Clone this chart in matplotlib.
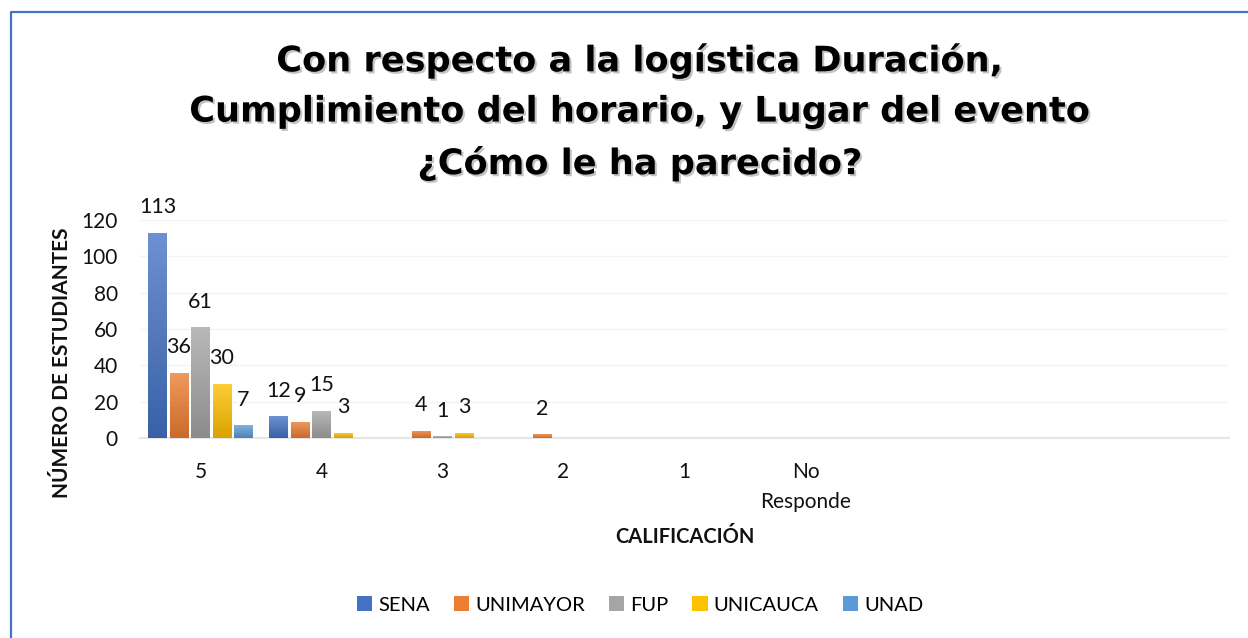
import matplotlib
matplotlib.use('Agg')
import matplotlib.pyplot as plt
import matplotlib.patheffects as pe
from matplotlib.lines import Line2D
from matplotlib.patches import Patch
import numpy as np

# data
categories = ["5", "4", "3", "2", "1", "No\nResponde", "", "", ""]
series = ["SENA", "UNIMAYOR", "FUP", "UNICAUCA", "UNAD"]
sena = [113, 12, 0, 0, 0, 0, 0, 0, 0]
unimayor = [36, 9, 4, 2, 0, 0, 0, 0, 0]
fup = [61, 15, 1, 0, 0, 0, 0, 0, 0]
unicauca = [30, 3, 3, 0, 0, 0, 0, 0, 0]
unad = [7, 0, 0, 0, 0, 0, 0, 0, 0]
yticks = [0, 20, 40, 60, 80, 100, 120]

colors = ["#4472C4", "#ED7D31", "#A5A5A5", "#FFC000", "#5B9BD5"]

plt.rcParams['font.family'] = ['Lato', 'DejaVu Sans']

fig = plt.figure(figsize=(12.48, 6.38), dpi=100)
ax = fig.add_axes([140 / 1248, 200 / 638, 1089 / 1248, 218 / 638])

x = np.arange(len(categories))
width = 0.155
step = 0.178


def grad_bar(ax, bars, color):
    # excel-like vertical gradient: lighter on top, darker at the base
    rgb = np.array(matplotlib.colors.to_rgb(color))
    top = rgb * 0.78 + 0.22
    bot = rgb * 0.85
    t = np.linspace(0, 1, 64)[:, None]
    img = (top * (1 - t) + bot * t)[:, None, :]
    for b in bars:
        h = b.get_height()
        if h <= 0:
            continue
        x0 = b.get_x()
        im = ax.imshow(img, extent=[x0, x0 + b.get_width(), 0, h],
                       aspect='auto', zorder=3, interpolation='bilinear')
        im.set_clip_path(b)


all_vals = [sena, unimayor, fup, unicauca, unad]
for i, (name, vals, c) in enumerate(zip(series, all_vals, colors)):
    pos = x + (i - 2) * step
    bars = ax.bar(pos, vals, width, color=c, zorder=2, label=name,
                  linewidth=0)
    grad_bar(ax, bars, c)
    for p, v in zip(pos, vals):
        if v > 0:
            ax.annotate(str(v), (p, v), xytext=(0, 11), textcoords='offset points',
                        ha='center', va='bottom', fontsize=15.5, color='#111111')

ax.set_xlim(-0.5, len(categories) - 0.5)
ax.set_ylim(0, 120)
ax.set_yticks(yticks)
ax.set_xticks(x)
ax.set_xticklabels(categories)
ax.tick_params(axis='both', length=0, labelsize=15, colors='#111111')
ax.tick_params(axis='y', pad=16)
ax.tick_params(axis='x', pad=17)
for lab in ax.get_xticklabels():
    lab.set_linespacing(1.65)
ax.yaxis.grid(True, color='#F4F4F4', linewidth=1, zorder=0)
ax.set_axisbelow(True)
for s in ['top', 'right', 'left']:
    ax.spines[s].set_visible(False)
ax.spines['bottom'].set_color('#E6E6E6')
ax.spines['bottom'].set_linewidth(1.5)

ax.set_xlabel("CALIFICACIÓN", fontsize=14.5, fontweight='bold', labelpad=11,
              color='#111111')
fig.text(62 / 1248, (638 - 363) / 638, "NÚMERO DE ESTUDIANTES", rotation=90,
         ha='center', va='center', fontsize=15, fontweight='bold', color='#111111')

title = ("Con respecto a la logística Duración,\n"
         "Cumplimiento del horario, y Lugar del evento\n"
         "¿Cómo le ha parecido?")
fig.text(640 / 1248, (638 - 112) / 638, title, ha='center', va='center',
         fontsize=25.3, fontweight='bold', linespacing=1.6, color='#000000',
         family=['DejaVu Sans'],
         path_effects=[pe.withSimplePatchShadow(offset=(1.5, -1.5), alpha=0.35,
                                                shadow_rgbFace='#555555')])

handles = [Patch(facecolor=c) for c in colors]
fig.legend(handles, series, loc='center', bbox_to_anchor=(640 / 1248, (638 - 605) / 638),
           ncol=5, frameon=False, fontsize=14.5, handlelength=0.75, handleheight=0.75,
           handletextpad=0.3, columnspacing=1.2)

# blue frame visible along left and top edges
fig.add_artist(Line2D([10.5 / 1248, 10.5 / 1248, 1.0], [0.0, 1 - 11.5 / 638, 1 - 11.5 / 638],
                      transform=fig.transFigure, color='#4472C4', linewidth=1.6))

fig.savefig("out.png", dpi=100)
